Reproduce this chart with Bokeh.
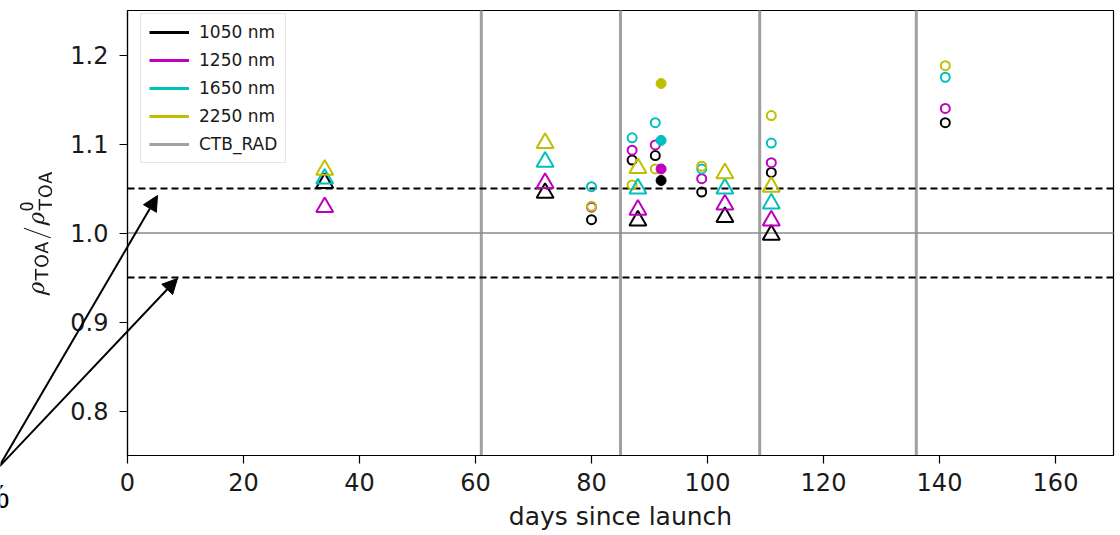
from bokeh.plotting import figure
from bokeh.models import (Legend, LegendItem, Arrow, NormalHead, Label,
                          FixedTicker, Range1d, PrintfTickFormatter)
from bokeh.embed import file_html
from bokeh.resources import INLINE

# ---------------- data ----------------
wavelengths = ["1050 nm", "1250 nm", "1650 nm", "2250 nm"]
colors = ["#000000", "#bf00bf", "#00bfbf", "#bfbf00"]

# open circles
circle_days = [80, 87, 91, 99, 111, 141]
circle_1050 = [1.015, 1.082, 1.087, 1.046, 1.068, 1.124]
circle_1250 = [1.029, 1.093, 1.099, 1.061, 1.079, 1.140]
circle_1650 = [1.052, 1.107, 1.124, 1.072, 1.101, 1.175]
circle_2250 = [1.030, 1.054, 1.072, 1.075, 1.132, 1.188]

# filled circles
filled_days = [92]
filled_1050 = [1.059]
filled_1250 = [1.072]
filled_1650 = [1.104]
filled_2250 = [1.168]

# open triangles
triangle_days = [34, 72, 88, 103, 111]
triangle_1050 = [1.056, 1.045, 1.014, 1.018, 0.998]
triangle_1250 = [1.029, 1.056, 1.026, 1.032, 1.014]
triangle_1650 = [1.061, 1.080, 1.050, 1.050, 1.033]
triangle_2250 = [1.071, 1.101, 1.073, 1.067, 1.052]

ctb_rad_days = [61, 85, 109, 136]
tolerance_levels = [0.95, 1.05]
unity_level = [1.0]

x_ticks = [0, 20, 40, 60, 80, 100, 120, 140, 160]
y_ticks = [0.8, 0.9, 1.0, 1.1, 1.2]

circle_series = [circle_1050, circle_1250, circle_1650, circle_2250]
filled_series = [filled_1050, filled_1250, filled_1650, filled_2250]
triangle_series = [triangle_1050, triangle_1250, triangle_1650, triangle_2250]

# ---------------- layout geometry (pixels) ----------------
W, H = 1120, 535
PX_L, PX_R, PX_T, PX_B = 127, 1113, 10, 455
X0, X1 = 0, 170
Y0, Y1 = 0.75, 1.25
sx = (PX_R - PX_L) / (X1 - X0)
sy = (PX_B - PX_T) / (Y1 - Y0)


def cx(px):
    return X0 + (px - PX_L) / sx


def cy(py):
    return Y1 - (py - PX_T) / sy


FONT = "DejaVu Sans"
TXT = "#1a1a1a"

# frame covers the whole canvas so that the annotation arrows outside the
# axes box are not clipped; the axes box is drawn explicitly
p = figure(width=W, height=H,
           x_range=Range1d(cx(0), cx(W)), y_range=Range1d(cy(H), cy(0)),
           output_backend="svg", toolbar_location=None,
           min_border=0, min_border_left=0, min_border_right=0,
           min_border_top=0, min_border_bottom=0)
p.background_fill_color = "white"
p.border_fill_color = "white"
p.xgrid.visible = False
p.ygrid.visible = False
p.outline_line_color = None

for ax in (p.xaxis[0], p.yaxis[0]):
    ax.axis_line_color = "black"
    ax.axis_line_width = 1.2
    ax.major_tick_line_color = "black"
    ax.major_tick_line_width = 1.2
    ax.major_tick_out = 8
    ax.major_tick_in = 0
    ax.minor_tick_line_color = None
    ax.major_label_text_font = FONT
    ax.major_label_text_font_size = "24px"
    ax.major_label_text_color = TXT
    ax.axis_label_text_font = FONT
    ax.axis_label_text_font_size = "25px"
    ax.axis_label_text_font_style = "normal"
    ax.axis_label_text_color = TXT

p.xaxis.fixed_location = Y0
p.yaxis.fixed_location = X0
p.xaxis.bounds = (X0, X1)
p.yaxis.bounds = (Y0, Y1)
p.xaxis.ticker = FixedTicker(ticks=x_ticks)
p.yaxis.ticker = FixedTicker(ticks=y_ticks)
p.yaxis.formatter = PrintfTickFormatter(format="%.1f")
p.xaxis.major_label_standoff = 9
p.yaxis.major_label_standoff = 11
p.xaxis.axis_label = "days since launch"
p.xaxis.axis_label_standoff = 8
p.yaxis.axis_label = r"$$\rho_{\mathsf{TOA}}/\rho^{\mathsf{0}}_{\mathsf{TOA}}$$"
p.yaxis.axis_label_standoff = 15
p.yaxis.axis_label_text_font_size = "21px"

# axes box
p.quad(left=[X0], right=[X1], bottom=[Y0], top=[Y1], fill_color=None,
       line_color="black", line_width=1.2)

# reference lines
p.segment(x0=ctb_rad_days, y0=Y0, x1=ctb_rad_days, y1=Y1,
          line_color="#a0a0a0", line_width=3)
p.segment(x0=X0, y0=unity_level, x1=X1, y1=unity_level,
          line_color="#8a8a8a", line_width=1.5)
p.segment(x0=X0, y0=tolerance_levels, x1=X1, y1=tolerance_levels,
          line_color="black", line_width=1.8, line_dash="7 4")

# markers
for c, ys in zip(colors, circle_series):
    p.scatter(circle_days, ys, marker="circle", size=9, fill_color=None,
              line_color=c, line_width=2)
for c, ys in zip(colors, filled_series):
    p.scatter(filled_days, ys, marker="circle", size=10, fill_color=c,
              line_color=c, line_width=1)
for c, ys in zip(colors, triangle_series):
    p.scatter(triangle_days, ys, marker="triangle", size=17, fill_color=None,
              line_color=c, line_width=2)

# legend (line entries)
nan = float("nan")
items = []
for lab, c in zip(wavelengths, colors):
    r = p.line(x=[nan, nan], y=[nan, nan], line_color=c, line_width=3)
    items.append(LegendItem(label=lab, renderers=[r]))
r = p.line(x=[nan, nan], y=[nan, nan], line_color="#a0a0a0", line_width=3)
items.append(LegendItem(label="CTB_RAD", renderers=[r]))

LEG_H = 148
legend = Legend(items=items, location=(140, H - 15 - LEG_H),
                orientation="vertical",
                glyph_width=40, glyph_height=20, label_height=20,
                label_standoff=10, spacing=8, padding=8,
                label_text_font=FONT, label_text_font_size="17px",
                label_text_color=TXT,
                border_line_color="#cccccc", border_line_width=1,
                background_fill_color="white", background_fill_alpha=0.85)
p.add_layout(legend)

# annotation arrows from the off-chart "±5%" note
arrow_start = (cx(-2), cy(467))
arrow_ends = [(cx(157), cy(195)), (cx(177), cy(278))]
for xe, ye in arrow_ends:
    p.add_layout(Arrow(end=NormalHead(size=15, fill_color="black",
                                      line_color="black", line_width=1),
                       x_start=arrow_start[0], y_start=arrow_start[1],
                       x_end=xe, y_end=ye, line_color="black", line_width=2))

p.add_layout(Label(x=cx(9), y=cy(495), text="±5%", text_align="right",
                   text_baseline="middle", text_font="Liberation Sans",
                   text_font_size="34px", text_color="black"))

open("out.html", "w").write(file_html(p, INLINE))
